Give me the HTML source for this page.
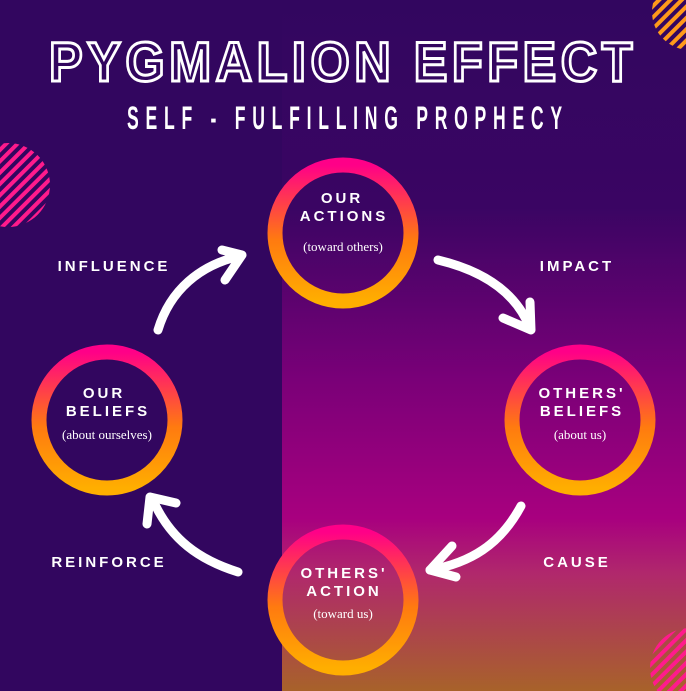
<!DOCTYPE html>
<html><head><style>
body{margin:0;width:686px;height:691px;overflow:hidden;background:#32065f;font-family:"Liberation Sans",sans-serif}
</style></head><body>
<svg width="686" height="691" viewBox="0 0 686 691" xmlns="http://www.w3.org/2000/svg" style="position:absolute;left:0;top:0">
<defs>
<linearGradient id="bg" x1="0" y1="0" x2="0" y2="1">
<stop offset="0" stop-color="#32065f"/>
<stop offset="0.3" stop-color="#3a0563"/>
<stop offset="0.55" stop-color="#7a0078"/>
<stop offset="0.75" stop-color="#a8007f"/>
<stop offset="0.83" stop-color="#b0286c"/>
<stop offset="1" stop-color="#a8622a"/>
</linearGradient>
<linearGradient id="ring" x1="0" y1="0" x2="0" y2="1">
<stop offset="0" stop-color="#ff0088"/>
<stop offset="0.55" stop-color="#ff7a10"/>
<stop offset="1" stop-color="#ffae00"/>
</linearGradient>
<pattern id="stripesP" width="8" height="8" patternUnits="userSpaceOnUse" patternTransform="rotate(45)">
<rect width="4" height="8" fill="#ff1a8c"/>
</pattern>
<pattern id="stripesO" width="8" height="8" patternUnits="userSpaceOnUse" patternTransform="rotate(45)">
<rect width="4" height="8" fill="#ff9a1a"/>
</pattern>
</defs>
<rect x="282" y="0" width="404" height="691" fill="url(#bg)"/>
<circle cx="8" cy="185" r="42" fill="url(#stripesP)"/>
<circle cx="690" cy="12" r="38" fill="url(#stripesO)"/>
<circle cx="690" cy="668" r="40" fill="url(#stripesP)"/>
<g fill="none" stroke="url(#ring)" stroke-width="15">
<circle cx="343" cy="233" r="68"/>
<circle cx="580" cy="420" r="68"/>
<circle cx="343" cy="600" r="68"/>
<circle cx="107" cy="420" r="68"/>
</g>
<g fill="none" stroke="#fff" stroke-width="9" stroke-linecap="round" stroke-linejoin="round">
<path d="M158 330 C170 290 200 265 240 256"/>
<path d="M222 250 L242 255 L225 280"/>
<path d="M438 260 C480 270 515 290 530 328"/>
<path d="M503 318 L531 330 L530 302"/>
<path d="M521 506 C500 545 470 563 430 570"/>
<path d="M452 546 L430 570 L456 577"/>
<path d="M238 572 C200 560 170 540 152 498"/>
<path d="M147 524 L150 497 L176 503"/>
</g>
<text x="343" y="81" text-anchor="middle" font-family="Liberation Sans" font-weight="bold" font-size="56" letter-spacing="5" fill="none" stroke="#fff" stroke-width="3" textLength="588" lengthAdjust="spacingAndGlyphs">PYGMALION EFFECT</text>
<text transform="scale(0.55,1)" x="231" y="129" font-family="Liberation Sans" font-weight="bold" font-size="32" fill="#fff" textLength="791" lengthAdjust="spacing">SELF - FULFILLING PROPHECY</text>
<g font-family="Liberation Sans" font-weight="bold" font-size="15" fill="#fff" letter-spacing="3" text-anchor="middle">
<text x="114" y="271">INFLUENCE</text>
<text x="577" y="271">IMPACT</text>
<text x="577" y="567">CAUSE</text>
<text x="109" y="567">REINFORCE</text>
<text x="342" y="203">OUR</text>
<text x="344" y="221">ACTIONS</text>
<text x="582" y="398">OTHERS'</text>
<text x="582" y="416">BELIEFS</text>
<text x="344" y="578">OTHERS'</text>
<text x="344" y="596">ACTION</text>
<text x="104" y="398">OUR</text>
<text x="108" y="416">BELIEFS</text>
</g>
<g font-family="Liberation Serif" font-size="13" fill="#fff" text-anchor="middle">
<text x="343" y="251">(toward others)</text>
<text x="580" y="439">(about us)</text>
<text x="343" y="618">(toward us)</text>
<text x="107" y="439">(about ourselves)</text>
</g>
</svg>
</body></html>
